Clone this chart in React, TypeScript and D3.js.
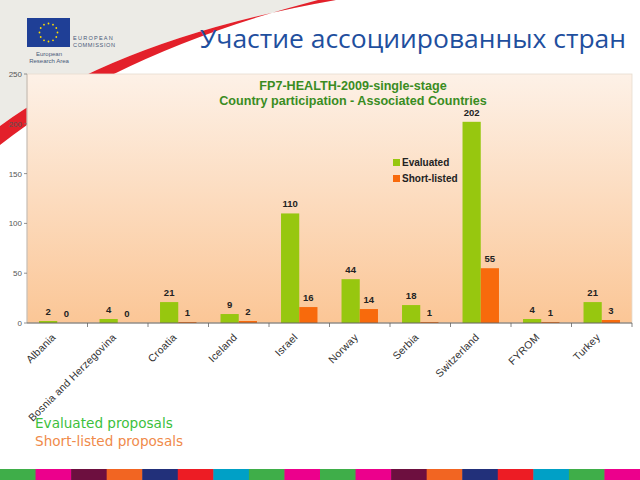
import React from "react";
import * as d3 from "d3";

const categories = ["Albania", "Bosnia and Herzegovina", "Croatia", "Iceland", "Israel", "Norway", "Serbia", "Switzerland", "FYROM", "Turkey"];
const evaluated = [2, 4, 21, 9, 110, 44, 18, 202, 4, 21];
const shortListed = [0, 0, 1, 2, 16, 14, 1, 55, 1, 3];
const seriesNames = ["Evaluated", "Short-listed"];
const yTicks = [0, 50, 100, 150, 200, 250];
const stripeColors = ["#3fae49", "#ec008c", "#6d0f3f", "#f26522", "#22307a", "#ed1c24", "#00a0c6", "#3fae49", "#ec008c", "#3fae49", "#ec008c", "#6d0f3f", "#f26522", "#22307a", "#ed1c24", "#00a0c6", "#3fae49", "#ec008c"];

const GREEN = "#97c70f";
const ORANGE = "#f86a0c";

export default function App() {
  const W = 640, H = 480;
  const left = 27, right = 632, top = 74, bottom = 323;
  const x0 = d3.scaleBand<string>().domain(categories).range([left, right]).paddingInner(0).paddingOuter(0);
  const x1 = d3.scaleBand<string>().domain(seriesNames).range([0, x0.bandwidth()]).paddingInner(0).paddingOuter(0.66);
  const y = d3.scaleLinear().domain([0, 250]).range([bottom, top]);
  const series = [evaluated, shortListed];
  const colors = [GREEN, ORANGE];

  const stripeW = W / stripeColors.length;
  const stars = d3.range(12).map((i) => {
    const a = (i / 12) * 2 * Math.PI;
    return { cx: 48.5 + 9 * Math.cos(a), cy: 32.5 + 9 * Math.sin(a) };
  });

  return (
    <svg width={W} height={H} style={{ position: "absolute", left: 0, top: 0, display: "block" }}>
      <defs>
        <linearGradient id="bg" x1="0" y1="0" x2="0" y2="1">
          <stop offset="0" stopColor="#fdf1e7" />
          <stop offset="1" stopColor="#fbc696" />
        </linearGradient>
      </defs>
      <rect x={0} y={0} width={W} height={H} fill="#ffffff" />
      <path d="M0,0 L336,0 Q120,38 0,126 Z" fill="#ecebe6" />
      <path d="M0,126 Q120,38 336,0 L318,0 Q118,52 0,145 Z" fill="#e3202a" />

      {/* EU logo */}
      <rect x={27} y={18} width={43} height={29} fill="#1f3f96" />
      {stars.map((s, i) => (
        <circle key={i} cx={s.cx} cy={s.cy} r={0.9} fill="#ffdd00" />
      ))}
      <text x={73} y={40} fontFamily="Liberation Sans, Arial" fontSize={5.6} letterSpacing={1.2} fill="#4a5a7a">EUROPEAN</text>
      <text x={73} y={47} fontFamily="Liberation Sans, Arial" fontSize={5.6} letterSpacing={0.6} fill="#4a5a7a">COMMISSION</text>
      <text x={49} y={56} textAnchor="middle" fontFamily="Liberation Sans, Arial" fontSize={6} fill="#4a5a7a">European</text>
      <text x={49} y={63} textAnchor="middle" fontFamily="Liberation Sans, Arial" fontSize={6} fill="#4a5a7a">Research Area</text>

      <text x={200} y={48} fontFamily="Open Sans" fontSize={25.5} textLength={426} lengthAdjust="spacingAndGlyphs" fill="#1f4f9e">Участие ассоциированных стран</text>

      {/* plot box */}
      <rect x={left} y={top} width={right - left} height={bottom - top} fill="url(#bg)" stroke="#e6dccf" strokeWidth={0.8} />

      <text x={353} y={90} textAnchor="middle" fontFamily="Liberation Sans, Arial" fontWeight="bold" fontSize={12.6} fill="#3a8c1f">FP7-HEALTH-2009-single-stage</text>
      <text x={353} y={105} textAnchor="middle" fontFamily="Liberation Sans, Arial" fontWeight="bold" fontSize={12.6} fill="#3a8c1f">Country participation - Associated Countries</text>

      {/* y axis */}
      <line x1={left} x2={left} y1={top} y2={bottom} stroke="#b8b0a8" strokeWidth={0.8} />
      {yTicks.map((t) => (
        <g key={t}>
          <line x1={left - 3} x2={left} y1={y(t)} y2={y(t)} stroke="#777" strokeWidth={0.8} />
          <text x={left - 5} y={y(t) + 3} textAnchor="end" fontFamily="Liberation Sans, Arial" fontSize={8} fill="#555">{t}</text>
        </g>
      ))}

      {/* bars */}
      {categories.map((c, i) => (
        <g key={c} transform={`translate(${x0(c)},0)`}>
          {series.map((s, j) => {
            const bx = x1(seriesNames[j]) as number;
            const bw = x1.bandwidth();
            return (
              <g key={j}>
                <rect x={bx} y={y(s[i])} width={bw} height={Math.max(0, bottom - y(s[i]))} fill={colors[j]} />
                <text x={bx + bw / 2} y={y(s[i]) - 6} textAnchor="middle" fontFamily="Liberation Sans, Arial" fontWeight="bold" fontSize={9.5} fill="#222">{s[i]}</text>
              </g>
            );
          })}
        </g>
      ))}

      {/* x axis */}
      <line x1={left} x2={right} y1={bottom} y2={bottom} stroke="#666" strokeWidth={1} />
      {categories.map((c, i) => (
        <line key={c} x1={(x0(c) as number) + x0.bandwidth()} x2={(x0(c) as number) + x0.bandwidth()} y1={bottom} y2={bottom + 4} stroke="#666" strokeWidth={0.8} />
      ))}
      {categories.map((c) => {
        const cx = (x0(c) as number) + x0.bandwidth() / 2 - 1;
        return (
          <text key={c} transform={`translate(${cx},${bottom + 15}) rotate(-45)`} textAnchor="end" fontFamily="Liberation Sans, Arial" fontSize={10.5} letterSpacing={0.2} fill="#333">{c}</text>
        );
      })}

      {/* legend */}
      {seriesNames.map((n, j) => (
        <g key={n} transform={`translate(393,${159 + j * 16})`}>
          <rect x={0} y={0} width={7} height={7} fill={colors[j]} />
          <text x={9} y={7} fontFamily="Liberation Sans, Arial" fontWeight="bold" fontSize={10} fill="#222">{n}</text>
        </g>
      ))}

      <text x={35} y={428} fontFamily="DejaVu Sans" fontSize={13.6} fill="#3cbf3c">Evaluated proposals</text>
      <text x={35} y={446} fontFamily="DejaVu Sans" fontSize={13.6} fill="#f08a4a">Short-listed proposals</text>

      {stripeColors.map((c, i) => (
        <rect key={i} x={i * stripeW} y={469} width={stripeW + 0.5} height={11} fill={c} />
      ))}
    </svg>
  );
}
